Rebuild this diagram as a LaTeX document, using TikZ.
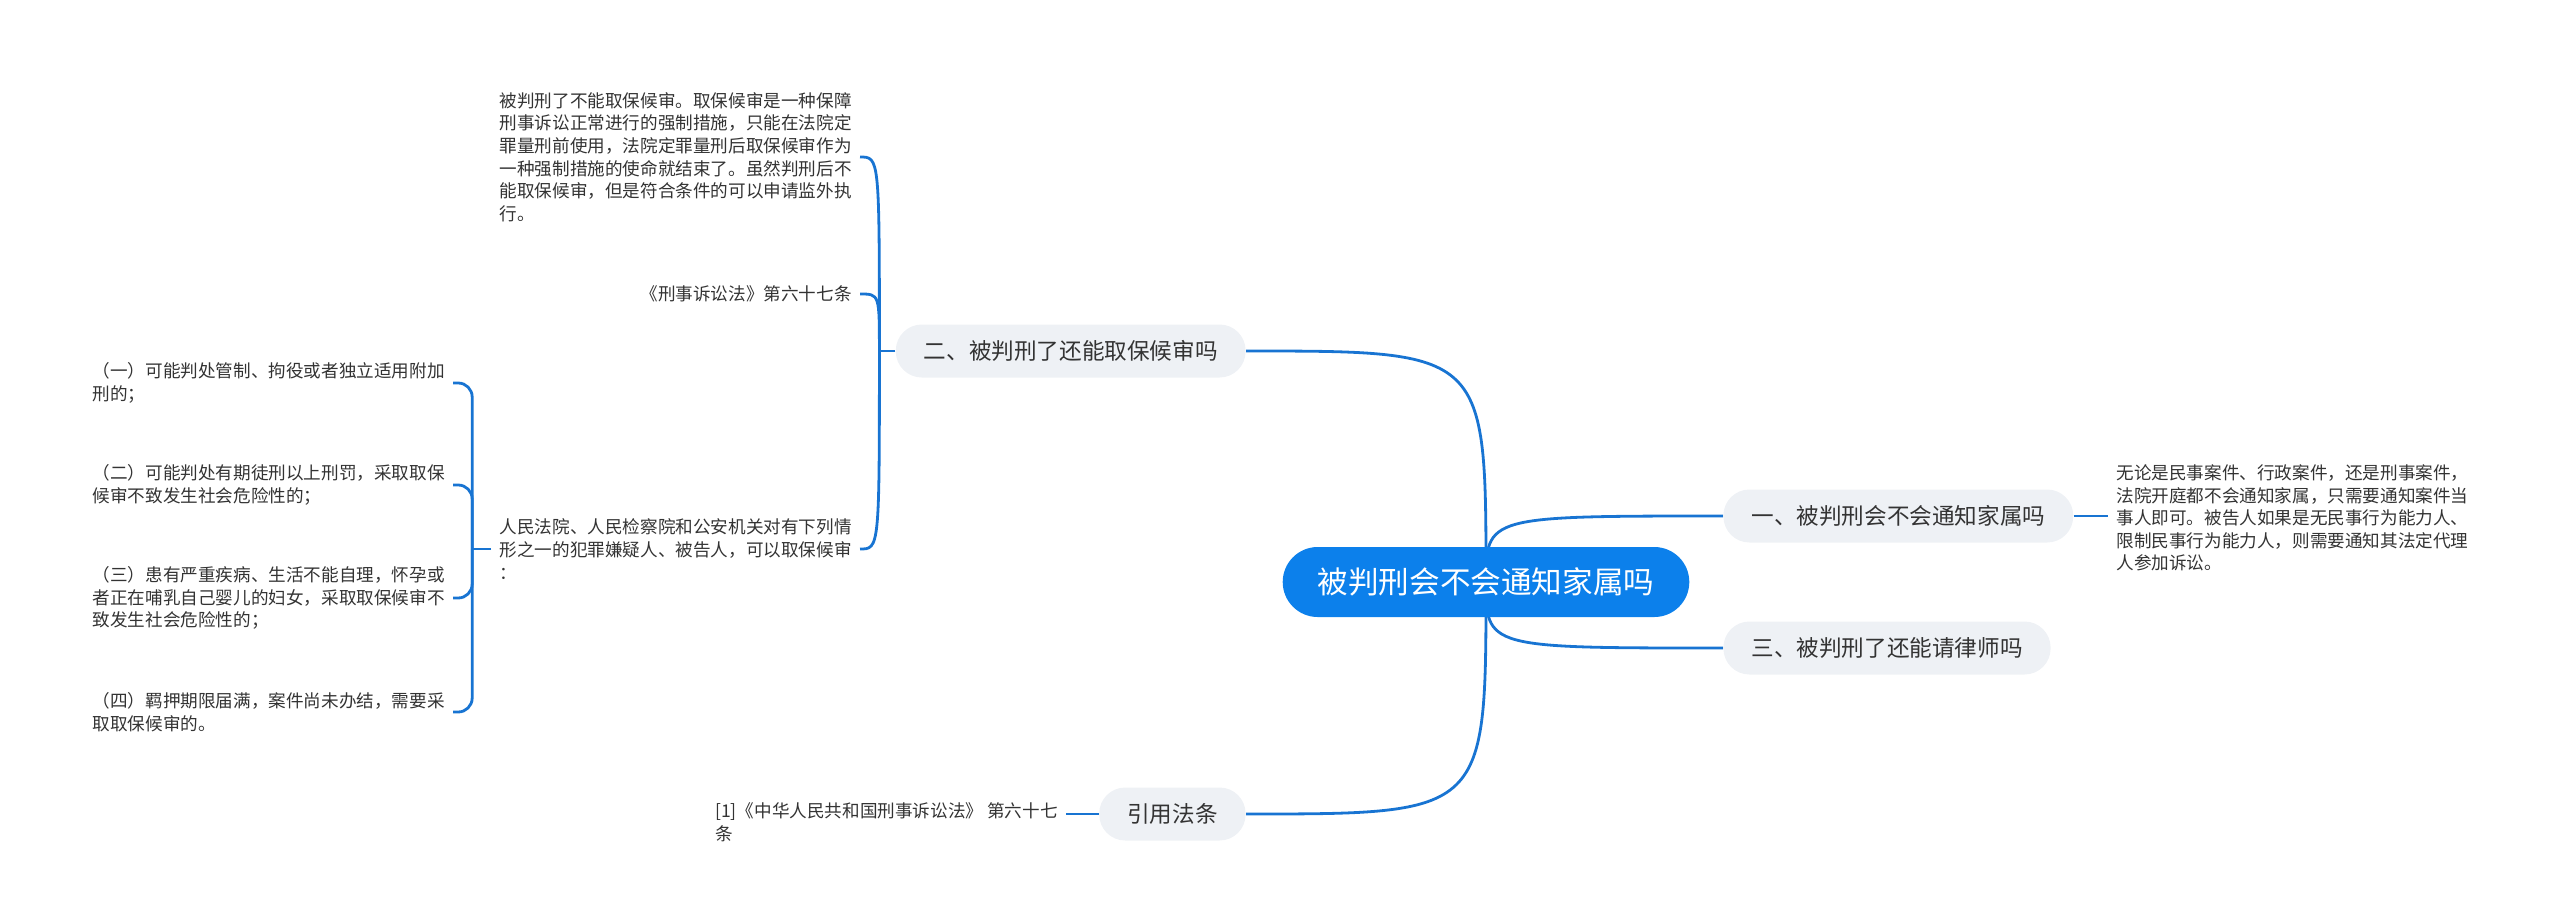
\documentclass[tikz,border=0pt]{standalone}
\usepackage{fontspec}
\setmainfont{Noto Sans CJK SC}
\usepackage{xcolor}
\usepackage{tikz}
\usetikzlibrary{positioning, backgrounds}

\definecolor{rootblue}{RGB}{12,128,235}
\definecolor{linkblue}{RGB}{24,116,210}
\definecolor{topicgray}{RGB}{238,241,245}
\definecolor{inkgray}{RGB}{51,51,51}

\begin{document}
\begin{tikzpicture}[
  x=0.5pt, y=-0.5pt,
  every node/.style={text=inkgray},
  root/.style={fill=rootblue, text=white, rounded corners=17.5pt,
               minimum height=35pt, inner xsep=17.5pt,
               font=\fontsize{15.3}{18}\selectfont},
  topic/.style={fill=topicgray, rounded corners=13pt,
                minimum height=26.5pt, inner xsep=14pt,
                font=\fontsize{11.3}{13.5}\selectfont},
  leaf/.style={align=left, inner xsep=4pt, inner ysep=0pt,
               font=\fontsize{8.8}{11.3}\selectfont},
  link/.style={draw=linkblue, line width=1.4pt},
]
\useasboundingbox (0,0) rectangle (2560,922);

\node[root] (root) at (1486,582) {被判刑会不会通知家属吗};
\node[topic, anchor=west] (q1)  at (1723,516) {一、被判刑会不会通知家属吗};
\node[topic, anchor=east] (q2)  at (1246,351) {二、被判刑了还能取保候审吗};
\node[topic, anchor=west] (q3)  at (1723,648) {三、被判刑了还能请律师吗};
\node[topic, anchor=east] (law) at (1246,814) {引用法条};

\node[leaf, anchor=west] (q1a) at (2108,518) {无论是民事案件、行政案件，还是刑事案件，\\
法院开庭都不会通知家属，只需要通知案件当\\
事人即可。被告人如果是无民事行为能力人、\\
限制民事行为能力人，则需要通知其法定代理\\
人参加诉讼。};
\node[leaf, anchor=east] (q2a) at (860,157) {被判刑了不能取保候审。取保候审是一种保障\\
刑事诉讼正常进行的强制措施，只能在法院定\\
罪量刑前使用，法院定罪量刑后取保候审作为\\
一种强制措施的使命就结束了。虽然判刑后不\\
能取保候审，但是符合条件的可以申请监外执\\
行。};
\node[leaf, anchor=east] (q2b) at (860,294) {《刑事诉讼法》第六十七条};
\node[leaf, anchor=east] (q2c) at (860,549) {人民法院、人民检察院和公安机关对有下列情\\
形之一的犯罪嫌疑人、被告人，可以取保候审\\
：};
\node[leaf, anchor=east] (c1) at (453,383) {（一）可能判处管制、拘役或者独立适用附加\\
刑的；};
\node[leaf, anchor=east] (c2) at (453,485) {（二）可能判处有期徒刑以上刑罚，采取取保\\
候审不致发生社会危险性的；};
\node[leaf, anchor=east] (c3) at (453,598) {（三）患有严重疾病、生活不能自理，怀孕或\\
者正在哺乳自己婴儿的妇女，采取取保候审不\\
致发生社会危险性的；};
\node[leaf, anchor=east] (c4) at (453,712) {（四）羁押期限届满，案件尚未办结，需要采\\
取取保候审的。};
\node[leaf, anchor=east] (lawa) at (1066,822) {[1]《中华人民共和国刑事诉讼法》 第六十七\\
条};

\coordinate (q2bus)  at ([xshift=-8pt]q2.west);
\coordinate (q2cbus) at ([xshift=-9.5pt]q2c.west);

\begin{scope}[on background layer]
\draw[link] (root.center) .. controls (root.center |- q1.west) .. (q1.west);
\draw[link] (root.center) .. controls (root.center |- q2.east) .. (q2.east);
\draw[link] (root.center) .. controls (root.center |- q3.west) .. (q3.west);
\draw[link] (root.center) .. controls (root.center |- law.east) .. (law.east);
\end{scope}

\draw[link] (q1.east) -- (q1.east -| q1a.west);
\draw[link] (q2.west) -- (q2bus);
\draw[link] (q2bus) .. controls (q2bus |- q2a.east) .. (q2a.east);
\draw[link] (q2bus) .. controls (q2bus |- q2b.east) .. (q2b.east);
\draw[link] (q2bus) .. controls (q2bus |- q2c.east) .. (q2c.east);
\draw[link] (q2c.west) -- (q2cbus);
\foreach \c in {c1,c2,c3,c4}
  \draw[link, rounded corners=7pt] (q2cbus) |- (\c.east);
\draw[link] (law.west) -- (law.west -| lawa.east);
\end{tikzpicture}
\end{document}
